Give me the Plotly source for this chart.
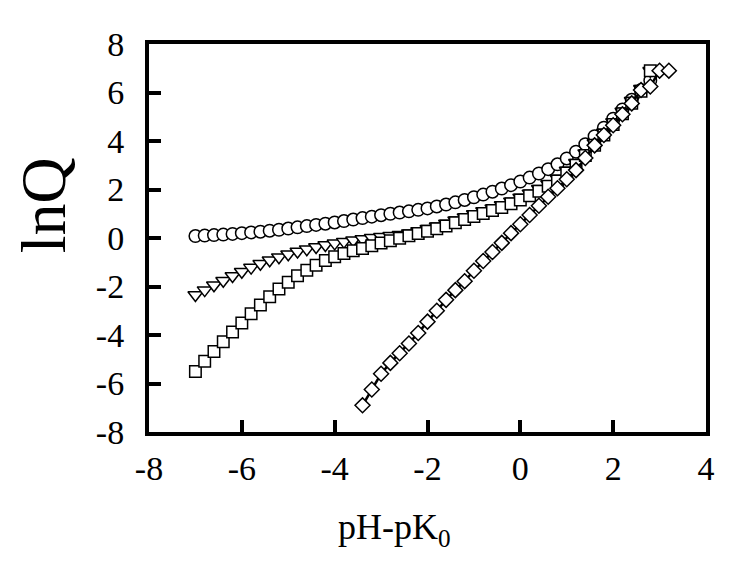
import plotly.graph_objects as go

# x values (pH - pK0)
x_main = [round(-7.0 + 0.2 * i, 1) for i in range(50)]  # -7.0 ... 2.8
x_diamond = [round(-3.4 + 0.2 * i, 1) for i in range(34)]  # -3.4 ... 3.2

circles = [0.08, 0.10, 0.12, 0.14, 0.17, 0.20, 0.23, 0.26, 0.30, 0.34,
           0.39, 0.44, 0.49, 0.54, 0.59, 0.64, 0.70, 0.76, 0.82, 0.88,
           0.94, 1.00, 1.05, 1.10, 1.16, 1.22, 1.30, 1.38, 1.47, 1.57,
           1.68, 1.79, 1.91, 2.04, 2.18, 2.33, 2.49, 2.66, 2.84, 3.04,
           3.28, 3.56, 3.87, 4.20, 4.55, 4.92, 5.30, 5.70, 6.10, 6.50]

triangles = [-2.35, -2.15, -1.95, -1.76, -1.57, -1.39, -1.22, -1.06, -0.92, -0.79,
             -0.67, -0.56, -0.46, -0.37, -0.29, -0.22, -0.15, -0.09, -0.04, 0.01,
             0.05, 0.09, 0.13, 0.20, 0.29, 0.38, 0.48, 0.60, 0.73, 0.86,
             0.99, 1.11, 1.23, 1.36, 1.51, 1.67, 1.84, 2.03, 2.23, 2.45,
             2.78, 3.10, 3.50, 3.92, 4.35, 4.78, 5.22, 5.66, 6.15, 6.90]

squares = [-5.50, -5.08, -4.68, -4.28, -3.88, -3.50, -3.12, -2.76, -2.42, -2.10,
           -1.82, -1.56, -1.33, -1.12, -0.93, -0.77, -0.64, -0.53, -0.43, -0.32,
           -0.21, -0.11, -0.01, 0.09, 0.19, 0.28, 0.38, 0.50, 0.63, 0.76,
           0.89, 1.01, 1.13, 1.26, 1.41, 1.57, 1.74, 1.93, 2.13, 2.35,
           2.68, 3.00, 3.40, 3.82, 4.25, 4.68, 5.12, 5.56, 6.05, 6.90]

diamonds = [-6.90, -6.25, -5.60, -5.15, -4.75, -4.35, -3.92, -3.45, -3.00, -2.55,
            -2.15, -1.78, -1.35, -0.95, -0.58, -0.20, 0.20, 0.57, 0.95, 1.33,
            1.70, 2.05, 2.42, 2.80, 3.30, 3.82, 4.25, 4.65, 5.10, 5.55,
            6.10, 6.25, 6.90, 6.90]

x_ticks = [-8, -6, -4, -2, 0, 2, 4]
y_ticks = [-8, -6, -4, -2, 0, 2, 4, 6, 8]

FONT = "Liberation Serif, Times New Roman, serif"
mk_line = dict(color="black", width=1.5)

fig = go.Figure()
fig.add_trace(go.Scatter(x=x_main, y=circles, mode="markers",
                         marker=dict(symbol="circle", size=12.5, color="white", line=mk_line)))
fig.add_trace(go.Scatter(x=x_main, y=triangles, mode="markers",
                         marker=dict(symbol="triangle-down", size=13, color="white", line=mk_line)))
fig.add_trace(go.Scatter(x=x_main, y=squares, mode="markers",
                         marker=dict(symbol="square", size=11.5, color="white", line=mk_line)))
fig.add_trace(go.Scatter(x=x_diamond, y=diamonds, mode="lines+markers",
                         line=dict(color="black", width=2.5),
                         marker=dict(symbol="diamond", size=11.5, color="white", line=mk_line)))

axis_common = dict(
    showgrid=False, zeroline=False, showline=True, linecolor="black", linewidth=4,
    mirror=True, ticks="inside", ticklen=12, tickwidth=4, tickcolor="black",
    tickfont=dict(family=FONT, size=34, color="black"),
)

fig.update_layout(
    width=729, height=562,
    margin=dict(l=141, r=31, t=36, b=138),
    paper_bgcolor="white", plot_bgcolor="white",
    showlegend=False,
    xaxis=dict(range=[-8, 4], tickvals=x_ticks, ticktext=[str(v) for v in x_ticks],
               ticklabelstandoff=3, **axis_common),
    yaxis=dict(range=[-8, 8], tickvals=y_ticks, ticktext=[str(v) for v in y_ticks],
               ticklabelstandoff=14, **axis_common),
    annotations=[
        dict(text="pH-pK<sub>0</sub>", x=0.44, y=-0.25, xref="paper", yref="paper",
             showarrow=False, xanchor="center", yanchor="middle",
             font=dict(family=FONT, size=36, color="black")),
        dict(text="lnQ", x=-0.19, y=0.585, xref="paper", yref="paper", textangle=-90,
             showarrow=False, xanchor="center", yanchor="middle",
             font=dict(family=FONT, size=64, color="black")),
    ],
)

fig.write_html("out.html")
